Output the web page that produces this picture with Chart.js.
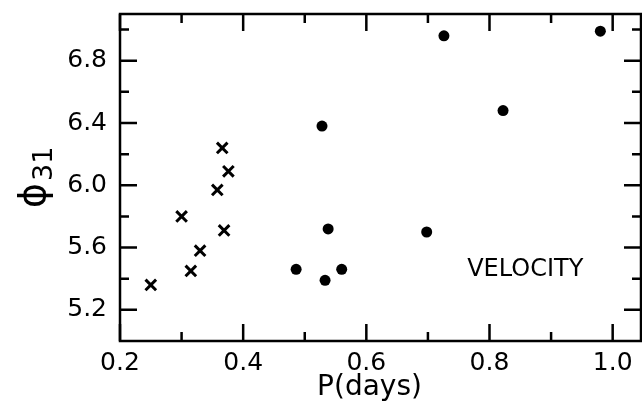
<!DOCTYPE html>
<html>
<head>
<meta charset="utf-8">
<script src="https://cdn.jsdelivr.net/npm/chart.js@4.4.0/dist/chart.umd.min.js"></script>
<style>
  html, body { margin: 0; padding: 0; background: #fff; }
</style>
</head>
<body>
<canvas id="phiChart" width="642" height="419"></canvas>
<script>
// crosses (short period stars)
const crossPeriod = [0.250, 0.300, 0.315, 0.330, 0.358, 0.366, 0.376, 0.369];
const crossPhi31 = [5.36, 5.80, 5.45, 5.58, 5.97, 6.24, 6.09, 5.71];
// filled dots
const dotPeriod = [0.486, 0.528, 0.533, 0.538, 0.560, 0.698, 0.726, 0.822, 0.980];
const dotPhi31 = [5.46, 6.38, 5.39, 5.72, 5.46, 5.70, 6.96, 6.48, 6.99];

const xTickLabels = ['0.2', '0.4', '0.6', '0.8', '1.0'];
const xMinorTicks = [0.3, 0.5, 0.7, 0.9];
const yTickLabels = ['5.2', '5.6', '6.0', '6.4', '6.8'];
const yMinorTicks = [5.4, 5.8, 6.2, 6.6, 7.0];

const xTitle = 'P(days)';
const yTitle = 'ϕ';
const yTitleSub = '31';
const panelLabel = 'VELOCITY';

Chart.defaults.font.family = "'DejaVu Sans', sans-serif";
Chart.defaults.color = '#000';

// frame with inward ticks, axis titles and the panel label
const frameTicks = {
    id: 'frameTicks',
    afterDraw(chart) {
        const ctx = chart.ctx;
        const a = chart.chartArea;
        const x = chart.scales.x;
        const y = chart.scales.y;
        ctx.save();
        ctx.strokeStyle = '#000';
        ctx.lineWidth = 2.5;
        ctx.strokeRect(a.left, a.top, a.right - a.left, a.bottom - a.top);

        ctx.beginPath();
        const xt = xTickLabels.map(t => [parseFloat(t), 17]).concat(xMinorTicks.map(v => [v, 9]));
        xt.forEach(([v, len]) => {
            const px = x.getPixelForValue(v);
            ctx.moveTo(px, a.bottom); ctx.lineTo(px, a.bottom - len);
            ctx.moveTo(px, a.top); ctx.lineTo(px, a.top + len);
        });
        const yt = yTickLabels.map(t => [parseFloat(t), 17]).concat(yMinorTicks.map(v => [v, 9]));
        yt.forEach(([v, len]) => {
            const py = y.getPixelForValue(v);
            ctx.moveTo(a.left, py); ctx.lineTo(a.left + len, py);
            ctx.moveTo(a.right, py); ctx.lineTo(a.right - len, py);
        });
        ctx.stroke();

        ctx.fillStyle = '#000';
        // x title
        ctx.font = "28px 'DejaVu Sans'";
        ctx.textAlign = 'center';
        ctx.textBaseline = 'middle';
        ctx.fillText(xTitle, (a.left + a.right) / 2 - 11, a.bottom + 47);

        // y title, rotated, with subscript
        ctx.save();
        ctx.translate(45, 208);
        ctx.rotate(-Math.PI / 2);
        ctx.textAlign = 'left';
        ctx.textBaseline = 'alphabetic';
        ctx.font = "38px 'DejaVu Sans'";
        ctx.fillText(yTitle, 0, 0);
        const w = ctx.measureText(yTitle).width;
        ctx.font = "27px 'DejaVu Sans'";
        ctx.fillText(yTitleSub, w + 2, 7);
        ctx.restore();

        // panel label
        ctx.font = "24px 'DejaVu Sans'";
        ctx.textAlign = 'center';
        ctx.textBaseline = 'middle';
        ctx.fillText(panelLabel, x.getPixelForValue(0.858), y.getPixelForValue(5.458));
        ctx.restore();
    }
};

const noPad = s => {
    s.paddingTop = 0; s.paddingBottom = 0;
    s.paddingLeft = 0; s.paddingRight = 0;
};

const config = {
    type: 'scatter',
    data: {
        datasets: [
            {
                data: crossPeriod.map((p, i) => ({ x: p, y: crossPhi31[i] })),
                pointStyle: 'crossRot',
                radius: 7.5,
                borderWidth: 3,
                borderColor: '#000',
                backgroundColor: '#000'
            },
            {
                data: dotPeriod.map((p, i) => ({ x: p, y: dotPhi31[i] })),
                pointStyle: 'circle',
                radius: 5.5,
                borderWidth: 0,
                backgroundColor: '#000'
            }
        ]
    },
    options: {
        responsive: false,
        animation: false,
        layout: { autoPadding: false, padding: { top: 14, right: 1, left: 0, bottom: 0 } },
        scales: {
            x: {
                type: 'linear',
                min: 0.2,
                max: 1.046,
                grid: { display: false, drawTicks: false },
                border: { display: false },
                afterFit: s => { s.height = 78; noPad(s); },
                afterBuildTicks: s => { s.ticks = xTickLabels.map(t => ({ value: parseFloat(t) })); },
                ticks: {
                    padding: 7,
                    maxRotation: 0,
                    font: { size: 25 },
                    callback: (v, i) => xTickLabels[i]
                }
            },
            y: {
                type: 'linear',
                min: 5.0,
                max: 7.1,
                grid: { display: false, drawTicks: false },
                border: { display: false },
                afterFit: s => { s.width = 120; noPad(s); },
                afterBuildTicks: s => { s.ticks = yTickLabels.map(t => ({ value: parseFloat(t) })); },
                ticks: {
                    padding: 13,
                    font: { size: 25 },
                    callback: (v, i) => yTickLabels[i]
                }
            }
        },
        plugins: {
            legend: { display: false },
            tooltip: { enabled: false }
        }
    },
    plugins: [frameTicks]
};

const phiChart = new Chart(document.getElementById('phiChart'), config);
</script>
</body>
</html>
